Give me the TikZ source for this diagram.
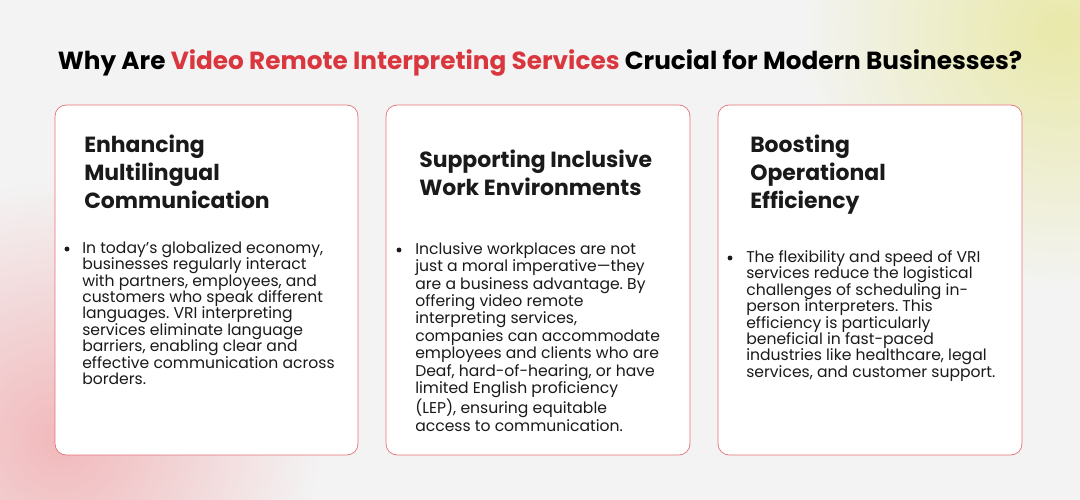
\documentclass[tikz,border=0pt]{standalone}
\usepackage{fontspec}
\setmainfont{Poppins}
\frenchspacing
\definecolor{vrired}{HTML}{D9363E}
\definecolor{bgrey}{HTML}{F3F3F3}
\definecolor{txtdark}{HTML}{1A1A1A}
\tikzset{
  card/.style={draw=vrired!70, line width=0.5pt, fill=white, rounded corners=8pt},
  heading/.style={anchor=north west, align=left, font=\fontsize{15.6}{19.9}\selectfont\bfseries, text=txtdark, inner sep=0pt},
  body/.style={anchor=north west, align=left, font=\fontsize{11.1}{11.7}\selectfont, text=txtdark, inner sep=0pt},
  dot/.style={circle, fill=txtdark, inner sep=0pt, minimum size=3.5pt}
}
\begin{document}
\begin{tikzpicture}[x=0.025cm,y=0.025cm]
  \useasboundingbox (0,0) rectangle (1080,500);
  \fill[bgrey] (0,0) rectangle (1080,500);
  % soft glows
  \begin{scope}
    \clip (0,0) rectangle (1080,500);
    \shade[inner color=vrired!35, outer color=bgrey] (60,60) circle (260);
    \shade[inner color=yellow!30!olive!25, outer color=bgrey] (1060,470) circle (260);
  \end{scope}
  % title
  \node[font=\fontsize{17.6}{22}\selectfont\bfseries, text=black] (title) at (540,437)
    {Why Are \textcolor{vrired}{Video Remote Interpreting Services} Crucial for Modern Businesses?};
  % cards
  \draw[card] (55,45) rectangle (358,395);
  \draw[card] (386,45) rectangle (690,395);
  \draw[card] (718,45) rectangle (1022,395);
  % card 1
  \node[heading] (h1) at (84,365) {Enhancing\\Multilingual\\Communication};
  \node[body] (b1) at (82,259) {In today’s globalized economy,\\businesses regularly interact\\with partners, employees, and\\customers who speak different\\languages. VRI interpreting\\services eliminate language\\barriers, enabling clear and\\effective communication across\\borders.};
  \node[dot] (d1) at (67,251) {};
  % card 2
  \node[heading] (h2) at (419,350) {Supporting Inclusive\\Work Environments};
  \node[body, font=\fontsize{11.1}{12.4}\selectfont] (b2) at (415,258) {Inclusive workplaces are not\\just a moral imperative—they\\are a business advantage. By\\offering video remote\\interpreting services,\\companies can accommodate\\employees and clients who are\\Deaf, hard-of-hearing, or have\\limited English proficiency\\(LEP), ensuring equitable\\access to communication.};
  \node[dot] (d2) at (399,250) {};
  % card 3
  \node[heading] (h3) at (750,365) {Boosting\\Operational\\Efficiency};
  \node[body] (b3) at (746,250) {The flexibility and speed of VRI\\services reduce the logistical\\challenges of scheduling in-\\person interpreters. This\\efficiency is particularly\\beneficial in fast-paced\\industries like healthcare, legal\\services, and customer support.};
  \node[dot] (d3) at (730,242) {};
\end{tikzpicture}
\end{document}
